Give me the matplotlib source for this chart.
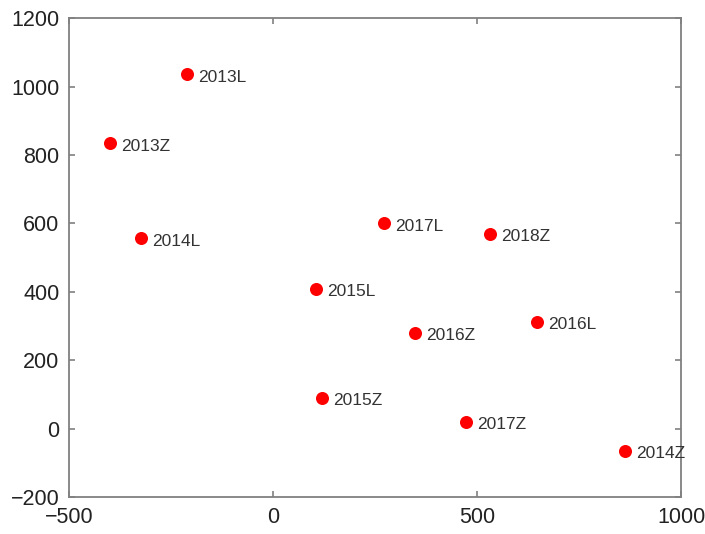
import numpy as np
import matplotlib.pyplot as plt

plt.rcParams['font.family'] = ['Liberation Sans', 'DejaVu Sans']

# points
labels = ['2013L', '2013Z', '2014L', '2017L', '2018Z', '2015L',
          '2016L', '2016Z', '2015Z', '2017Z', '2014Z']
x_vals = [-210, -400, -324, 272, 532, 106, 648, 348, 120, 474, 862]
y_vals = [1036, 834, 556, 600, 570, 409, 312, 280, 90, 20, -65]

xticks = [-500, 0, 500, 1000]
yticks = [-200, 0, 200, 400, 600, 800, 1000, 1200]

fig = plt.figure(figsize=(7.05, 5.34), dpi=100)
ax = fig.add_axes([0.098, 0.069, 0.868, 0.897])

ax.scatter(x_vals, y_vals, s=88, color='#ff0000', zorder=3, linewidths=0)
for lab, x, y in zip(labels, x_vals, y_vals):
    ax.annotate(lab, (x, y), xytext=(8, -2), textcoords='offset points',
                ha='left', va='center', fontsize=12.5, color='#333333')

ax.set_xlim(-500, 1000)
ax.set_ylim(-200, 1200)
ax.set_xticks(xticks)
ax.set_yticks(yticks)
ax.tick_params(direction='in', length=4, width=1.2, color='#808080',
               labelsize=15.5, labelcolor='#222222', top=True, right=True, pad=7)
for sp in ax.spines.values():
    sp.set_color('#808080')
    sp.set_linewidth(1.3)

fig.savefig('out.png', dpi=100)
